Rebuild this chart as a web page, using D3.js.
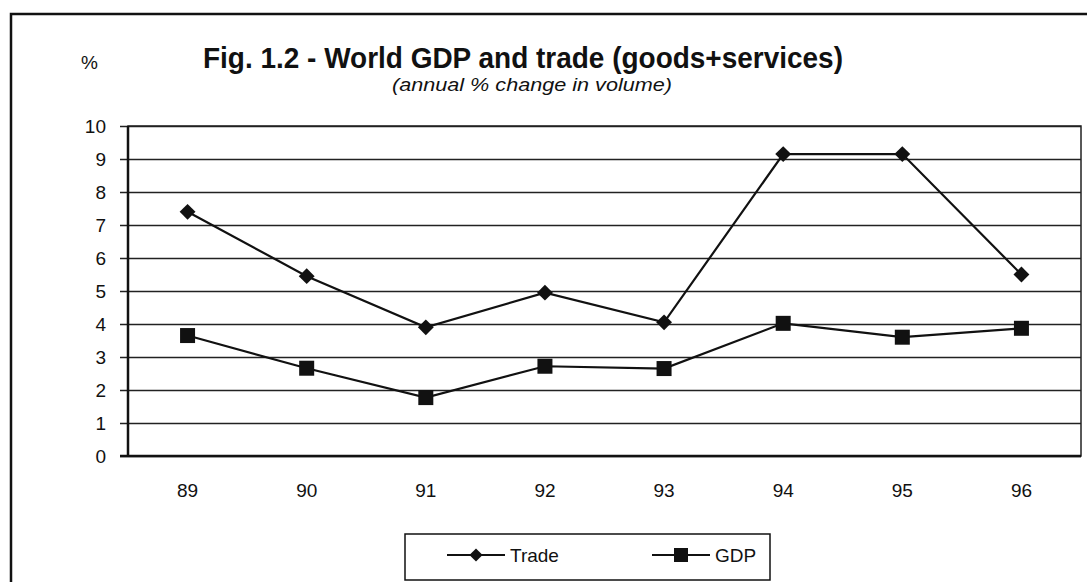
<!DOCTYPE html>
<html>
<head>
<meta charset="utf-8">
<script src="https://cdn.jsdelivr.net/npm/d3@7"></script>
<style>
  body { margin: 0; background: #fff; }
  text { font-family: "Liberation Sans", Arial, sans-serif; fill: #111; }
</style>
</head>
<body>
<div id="chart"></div>
<script>
var years = ["89", "90", "91", "92", "93", "94", "95", "96"];
var trade = [7.4, 5.45, 3.9, 4.95, 4.05, 9.15, 9.15, 5.5];
var gdp = [3.65, 2.66, 1.77, 2.72, 2.65, 4.02, 3.6, 3.87];
var yTicks = [0, 1, 2, 3, 4, 5, 6, 7, 8, 9, 10];

var W = 1087, H = 582;
var margin = {top: 126, right: 6, bottom: 126, left: 128};
var width = W - margin.left - margin.right;
var height = H - margin.top - margin.bottom;

var svg = d3.select("#chart").append("svg")
  .attr("width", W)
  .attr("height", H);

// outer frame (top + left only, the rest is cut off)
svg.append("path")
  .attr("d", "M11,582 V14 H1087")
  .attr("fill", "none")
  .attr("stroke", "#111")
  .attr("stroke-width", 2.5);

// titles
svg.append("text")
  .attr("x", 81).attr("y", 69)
  .style("font-size", "19px")
  .text("%");

svg.append("text")
  .attr("x", 203).attr("y", 68)
  .attr("textLength", 640)
  .attr("lengthAdjust", "spacingAndGlyphs")
  .style("font-size", "29px")
  .style("font-weight", "bold")
  .text("Fig. 1.2 - World GDP and trade (goods+services)");

svg.append("text")
  .attr("x", 392).attr("y", 91)
  .attr("textLength", 280)
  .attr("lengthAdjust", "spacingAndGlyphs")
  .style("font-size", "18px")
  .style("font-style", "italic")
  .text("(annual % change in volume)");

var g = svg.append("g")
  .attr("transform", "translate(" + margin.left + "," + margin.top + ")");

var x = d3.scaleBand().domain(years).range([0, width]);
var y = d3.scaleLinear().domain([0, 10]).range([height, 0]);

// gridlines, with ticks sticking out to the left
var yAxis = g.append("g")
  .call(d3.axisLeft(y).tickValues(yTicks).tickSize(0).tickPadding(22)
    .tickFormat(d3.format("d")))
  .call(function(a) { a.select(".domain").remove(); });
yAxis.selectAll(".tick line")
  .attr("x1", -8)
  .attr("x2", width)
  .attr("stroke", "#222")
  .attr("stroke-width", 1.3);
yAxis.selectAll(".tick text")
  .style("font-size", "19px")
  .attr("dy", "0.35em");

// plot border
g.append("rect")
  .attr("width", width).attr("height", height)
  .attr("fill", "none")
  .attr("stroke", "#222")
  .attr("stroke-width", 1.5);
g.append("line")
  .attr("x1", 0).attr("x2", 0).attr("y1", 0).attr("y2", height)
  .attr("stroke", "#111").attr("stroke-width", 2.5);
g.append("line")
  .attr("x1", -8).attr("x2", width).attr("y1", height).attr("y2", height)
  .attr("stroke", "#111").attr("stroke-width", 2.5);

// x labels
var xAxis = g.append("g")
  .attr("transform", "translate(0," + height + ")")
  .call(d3.axisBottom(x).tickSize(0).tickPadding(28));
xAxis.select(".domain").remove();
xAxis.selectAll("text").style("font-size", "19px");

var cx = function(d, i) { return x(years[i]) + x.bandwidth() / 2; };
var line = d3.line().x(cx).y(function(d) { return y(d); });

g.append("path").datum(trade)
  .attr("d", line).attr("fill", "none")
  .attr("stroke", "#111").attr("stroke-width", 2.2);
g.append("path").datum(gdp)
  .attr("d", line).attr("fill", "none")
  .attr("stroke", "#111").attr("stroke-width", 2.2);

var diamond = d3.symbol().type(d3.symbolDiamond2).size(160);
g.selectAll(".tr").data(trade).enter().append("path")
  .attr("class", "tr")
  .attr("transform", function(d, i) { return "translate(" + cx(d, i) + "," + y(d) + ")"; })
  .attr("d", diamond)
  .attr("fill", "#111");

g.selectAll(".gd").data(gdp).enter().append("rect")
  .attr("class", "gd")
  .attr("x", function(d, i) { return cx(d, i) - 7.5; })
  .attr("y", function(d) { return y(d) - 7.5; })
  .attr("width", 15).attr("height", 15)
  .attr("fill", "#111");

// legend
var legend = svg.append("g").attr("transform", "translate(405,534)");
legend.append("rect")
  .attr("width", 365).attr("height", 46)
  .attr("fill", "#fff").attr("stroke", "#111").attr("stroke-width", 1.5);

var items = [{name: "Trade", x: 42}, {name: "GDP", x: 247}];
items.forEach(function(it, i) {
  var lg = legend.append("g").attr("transform", "translate(" + it.x + ",21)");
  lg.append("line").attr("x1", 0).attr("x2", 58)
    .attr("stroke", "#111").attr("stroke-width", 2);
  if (i === 0) {
    lg.append("path").attr("transform", "translate(29,0)")
      .attr("d", d3.symbol().type(d3.symbolDiamond2).size(110)).attr("fill", "#111");
  } else {
    lg.append("rect").attr("x", 22).attr("y", -7).attr("width", 14).attr("height", 14)
      .attr("fill", "#111");
  }
  lg.append("text").attr("x", 63).attr("dy", "0.35em")
    .style("font-size", "19px").text(it.name);
});
</script>
</body>
</html>
